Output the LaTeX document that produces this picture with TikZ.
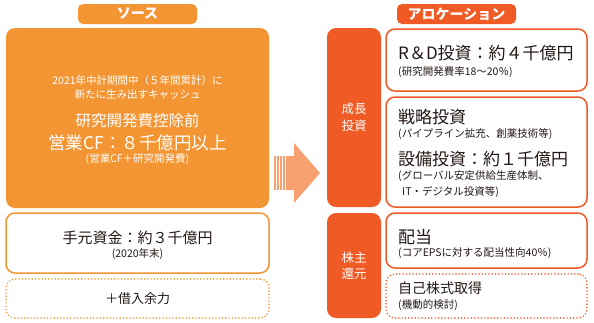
\documentclass[tikz,border=0pt]{standalone}
\usepackage{fontspec}
\setmainfont{Noto Sans CJK JP}
\usepackage{tikz}
\usetikzlibrary{positioning,calc}
\usepackage{xcolor}
\definecolor{srcorange}{RGB}{243,149,51}
\definecolor{aloorange}{RGB}{240,90,36}
\definecolor{arrowpeach}{RGB}{247,160,112}
\definecolor{inkgray}{RGB}{35,24,21}
\tikzset{
    headtag/.style={rectangle, rounded corners=5pt, fill=#1, text=white, minimum width=119pt, minimum height=20pt, inner sep=0pt, font=\fontsize{14}{14}\selectfont\bfseries},
    srcbox/.style={rectangle, rounded corners=9pt, fill=srcorange, minimum width=263pt, inner sep=0pt},
    linebox/.style={rectangle, rounded corners=9pt, draw=#1, fill=white, line width=1.5pt, inner sep=0pt},
    dotbox/.style={rectangle, rounded corners=9pt, draw=#1, line width=1.7pt, dash pattern=on 0pt off 3.3pt, line cap=round, inner sep=0pt},
    colbox/.style={rectangle, rounded corners=9pt, fill=aloorange, minimum width=54pt, inner sep=0pt, text=white, align=center, font=\fontsize{12.5}{16.5}\selectfont},
    bigtxt/.style={inner sep=0pt, text=inkgray, font=\fontsize{17}{17}\selectfont},
    midtxt/.style={inner sep=0pt, text=inkgray, font=\fontsize{15}{15}\selectfont},
    smalltxt/.style={inner sep=0pt, text=inkgray, font=\fontsize{10.5}{10.5}\selectfont},
}

\begin{document}
\begin{tikzpicture}[x=1pt, y=-1pt]
    \useasboundingbox (0,0) rectangle (594,322);
    % Column headings
    \node[headtag=srcorange] (srcTag) at (137.5,14) {ソース};
    \node[headtag=aloorange] (aloTag) at (456.5,14) {アロケーション};
    % Source side
    \node[srcbox, minimum height=180pt] (srcMain) at (137.5,118) {};
    \node[linebox=srcorange, minimum width=263pt, minimum height=60pt] (srcCash) at (137.5,243) {};
    \node[dotbox=srcorange, minimum width=263pt, minimum height=39pt] (srcLoan) at (137.5,298.5) {};
    \node[smalltxt, text=white] (mainA) at (137.5,81) {2021年中計期間中（５年間累計）に};
    \node[smalltxt, text=white] (mainB) at (137.5,95) {新たに生み出すキャッシュ};
    \node[midtxt, text=white, font=\fontsize{15.5}{15.5}\selectfont] (mainC) at (137.5,121) {研究開発費控除前};
    \node[bigtxt, text=white, font=\fontsize{17.5}{17.5}\selectfont] (mainD) at (137.5,143) {営業CF：８千億円以上};
    \node[smalltxt, text=white] (mainE) at (137.5,159) {(営業CF＋研究開発費)};
    \node[midtxt] (cashA) at (137.5,238) {手元資金：約３千億円};
    \node[smalltxt] (cashB) at (137.5,254) {(2020年末)};
    \node[midtxt, font=\fontsize{13}{13}\selectfont] (loanA) at (137.5,299) {＋借入余力};
    % Flow arrow
    \coordinate (flowS) at (274,173);
    \coordinate (flowE) at (320,173);
    \foreach \s in {0,3,6,9} {
        \fill[arrowpeach] ($(flowS)+(\s,-17)$) rectangle ++(1.8,34);
    }
    \fill[arrowpeach] ($(flowS)+(12,-17)$) -- ($(flowE)+(-26,-17)$) -- ($(flowE)+(-26,-30)$)
        -- (flowE) -- ($(flowE)+(-26,30)$) -- ($(flowE)+(-26,17)$) -- ($(flowS)+(12,17)$) -- cycle;
    % Allocation side
    \node[colbox, minimum height=179pt] (growCol) at (354,117.5) {成長\\投資};
    \node[colbox, minimum height=105pt] (retCol) at (354,265.5) {株主\\還元};
    \node[linebox=aloorange, minimum width=201pt, minimum height=62pt] (rdBox) at (486.5,60) {};
    \node[linebox=aloorange, minimum width=201pt, minimum height=110pt] (capBox) at (486.5,152) {};
    \node[linebox=aloorange, minimum width=201pt, minimum height=55pt] (divBox) at (486.5,240.5) {};
    \node[dotbox=aloorange, minimum width=201pt, minimum height=44pt] (buyBox) at (486.5,296) {};
    \node[bigtxt, anchor=west] (rdA) at (398,53) {R＆D投資：約４千億円};
    \node[smalltxt, anchor=west] (rdB) at (398,72) {(研究開発費率18〜20％)};
    \node[bigtxt, anchor=west] (capA) at (398,117) {戦略投資};
    \node[smalltxt, anchor=west] (capB) at (398,134) {(パイプライン拡充、創薬技術等)};
    \node[bigtxt, anchor=west] (capC) at (398,159) {設備投資：約１千億円};
    \node[smalltxt, anchor=west] (capD) at (398,176) {(グローバル安定供給生産体制、};
    \node[smalltxt, anchor=west] (capE) at (402,192) {IT・デジタル投資等)};
    \node[bigtxt, anchor=west] (divA) at (398,237) {配当};
    \node[smalltxt, anchor=west] (divB) at (398,253) {(コアEPSに対する配当性向40％)};
    \node[midtxt, font=\fontsize{14}{14}\selectfont, anchor=west] (buyA) at (398,288) {自己株式取得};
    \node[smalltxt, anchor=west] (buyB) at (398,305) {(機動的検討)};
\end{tikzpicture}
\end{document}
